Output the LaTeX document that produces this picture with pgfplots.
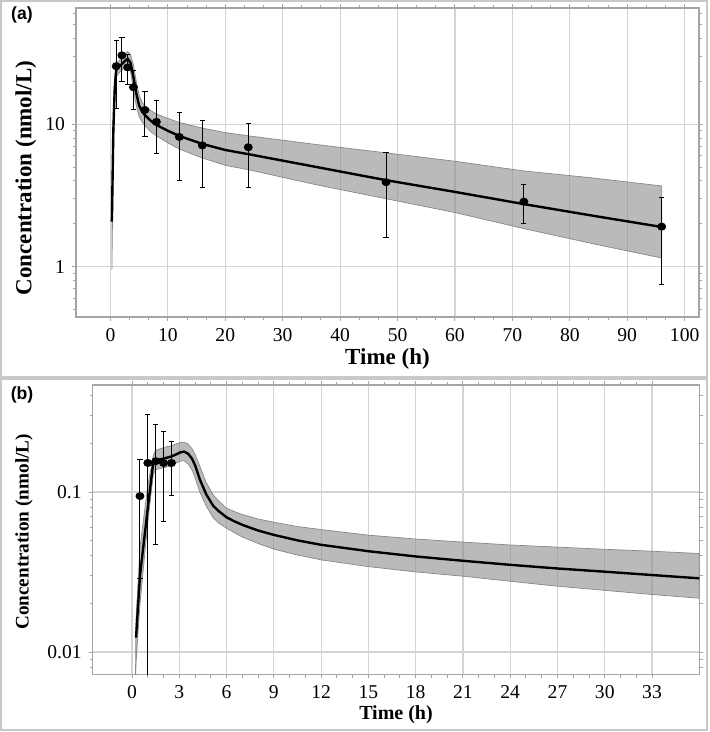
\documentclass[border=0pt]{standalone}
\usepackage{fontspec}
\setmainfont{Liberation Serif}
\newfontfamily\arialfont{Liberation Sans}
\usepackage{pgfplots}
\pgfplotsset{compat=1.18}
\definecolor{panelgray}{RGB}{200,200,200}
\definecolor{gridgray}{RGB}{212,212,212}
\definecolor{axisgray}{RGB}{165,165,165}
\definecolor{edgegray}{RGB}{135,135,135}
\pgfplotsset{
  pkstyle/.style={
    scale only axis,
    axis line style={axisgray, line width=0.6pt},
    tick style={axisgray, line width=0.5pt},
    tick align=outside,
    major tick length=2pt,
    minor tick length=1.6pt,
    xmajorgrids, ymajorgrids,
    major grid style={gridgray, line width=0.6pt},
    minor x tick num=2,
    /pgf/number format/assume math mode=true,
    ticklabel style={font=\fontsize{9.8pt}{11pt}\selectfont},
    clip=true,
  },
  bandstyle/.style={fill=black!45, fill opacity=0.6, draw=edgegray, line width=0.35pt},
  meanstyle/.style={black, line width=1.2pt, mark=none},
  errstyle/.style={black, line width=0.5pt, mark=-, mark size=1.3pt, unbounded coords=jump},
  obsstyle/.style={only marks, mark=*, mark size=1.8pt, mark options={black, xscale=1.12}},
}
\begin{document}
\begin{tikzpicture}
\useasboundingbox (0pt,0pt) rectangle (354.5pt,-366pt);
\draw[panelgray, line width=1pt] (0.5pt,-0.5pt) rectangle (353.5pt,-188.5pt);
\draw[panelgray, line width=1pt] (0.5pt,-189.5pt) rectangle (353.5pt,-365pt);
\node[font=\arialfont\bfseries\fontsize{8.8pt}{10pt}\selectfont, anchor=center] at (11pt,-7.5pt) {(a)};
\node[font=\arialfont\bfseries\fontsize{8.8pt}{10pt}\selectfont, anchor=center] at (11pt,-197.5pt) {(b)};

% ---------------- Panel (a) ----------------
\begin{semilogyaxis}[pkstyle,
  at={(38pt,-4pt)}, anchor=north west,
  width=311.5pt, height=154.5pt,
  xmin=-6, xmax=102.5, ymin=0.443, ymax=65.6,
  xtick={0,10,20,30,40,50,60,70,80,90,100},
  xticklabels={0,10,20,30,40,50,60,70,80,90,100},
  ytick={1,10}, yticklabels={1,10},
  minor ytick={0.5,0.6,0.7,0.8,0.9,2,3,4,5,6,7,8,9,20,30,40,50,60},
  xlabel={Time (h)}, ylabel={Concentration (nmol/L)},
  xlabel style={font=\bfseries\fontsize{11.5pt}{13pt}\selectfont, at={(axis description cs:0.5,0)}, anchor=center, yshift=-21pt},
  ylabel style={font=\bfseries\fontsize{11.5pt}{13pt}\selectfont, at={(axis description cs:-0.0803,0.45)}, anchor=center},
]
\addplot[bandstyle] coordinates {
(0.25,3.0) (0.5,13) (0.75,21.5) (1,26.5) (1.5,28) (2,29.5) (2.5,31) (3,32.4) (3.5,31) (4,26) (4.5,20) (5,16) (5.5,14.3) (6,13.4) (7,12.5) (8,11.8) (10,11) (12,10.3) (16,9.4) (20,8.75) (24,8.3) (36,7.2) (48,6.3) (60,5.5) (72,4.7) (84,4.2) (96,3.69)
(96,1.15) (84,1.45) (72,1.85) (60,2.4) (48,3.0) (36,3.75) (24,4.8) (20,5.15) (16,5.8) (12,6.7) (10,7.4) (8,8.3) (7,8.9) (6,9.8) (5.5,10.4) (5,11.3) (4.5,13.5) (4,17.5) (3.5,23.5) (3,25.7) (2.5,25) (2,24) (1.5,23) (1,21.5) (0.75,15) (0.5,6) (0.25,0.95)
} -- cycle;
\addplot[meanstyle] coordinates {
(0.25,2.07) (0.5,9) (0.75,18) (1,24) (1.5,25.5) (2,26.5) (2.5,27.8) (3,28.9) (3.5,27) (4,21.5) (4.5,16.5) (5,13.5) (5.5,12.3) (6,11.6) (7,10.6) (8,9.9) (10,9) (12,8.28) (16,7.28) (20,6.6) (24,6.17) (36,5.0) (48,4.05) (60,3.35) (72,2.75) (84,2.28) (96,1.9)
};
\addplot[errstyle] table {
x y
1 12.9
1 38.6
nan nan
2 20.1
2 41
nan nan
3 19.1
3 31.1
nan nan
4 12.7
4 23.7
nan nan
6 8.2
6 17.1
nan nan
8 6.25
8 14.7
nan nan
12 4.02
12 12.1
nan nan
16 3.61
16 10.6
nan nan
24 3.59
24 10.2
nan nan
48 1.59
48 6.31
nan nan
72 2.02
72 3.75
nan nan
96 0.745
96 3.08
};
\addplot[obsstyle] table {
x y
1 25.6
2 30.5
3 25.1
4 18.2
6 12.6
8 10.4
12 8.15
16 7.11
24 6.9
48 3.92
72 2.86
96 1.91
};
\end{semilogyaxis}

% ---------------- Panel (b) ----------------
\begin{semilogyaxis}[pkstyle,
  at={(46.35pt,-192.5pt)}, anchor=north west,
  width=303.3pt, height=144.65pt,
  xmin=-2.5, xmax=36, ymin=0.00726, ymax=0.467,
  xtick={0,3,6,9,12,15,18,21,24,27,30,33},
  xticklabels={0,3,6,9,12,15,18,21,24,27,30,33},
  ytick={0.01,0.1}, yticklabels={0.01,0.1},
  minor ytick={0.008,0.009,0.02,0.03,0.04,0.05,0.06,0.07,0.08,0.09,0.2,0.3,0.4},
  xlabel={Time (h)}, ylabel={Concentration (nmol/L)},
  xlabel style={font=\bfseries\fontsize{10pt}{12pt}\selectfont, at={(axis description cs:0.5,0)}, anchor=center, yshift=-20.3pt},
  ylabel style={font=\bfseries\fontsize{9.6pt}{11pt}\selectfont, at={(axis description cs:-0.1133,0.492)}, anchor=center},
]
\addplot[bandstyle] coordinates {
(0.25,0.016) (0.5,0.045) (1,0.11) (1.35,0.17) (1.5,0.182) (2,0.19) (2.5,0.195) (2.8,0.2) (3.05,0.204) (3.3,0.205) (3.55,0.2) (3.8,0.187) (4,0.172) (4.3,0.145) (4.7,0.115) (5.15,0.096) (5.5,0.088) (6,0.0792) (6.5,0.0755) (7,0.0724) (8,0.0679) (9,0.0648) (10.5,0.0609) (12,0.0583) (15,0.0538) (18,0.0509) (21,0.0487) (24,0.0467) (27,0.0453) (30,0.0439) (33,0.0427) (36,0.0413)
(36,0.0217) (33,0.0229) (30,0.0243) (27,0.0258) (24,0.0277) (21,0.0298) (18,0.0317) (15,0.0342) (12,0.0377) (10.5,0.0404) (9,0.044) (8,0.0477) (7,0.0524) (6.5,0.0557) (6,0.0594) (5.5,0.064) (5.15,0.069) (4.7,0.082) (4.3,0.1) (4,0.123) (3.8,0.138) (3.55,0.15) (3.3,0.157) (3.05,0.156) (2.8,0.152) (2.5,0.146) (2,0.142) (1.5,0.138) (1.35,0.13) (1,0.065) (0.5,0.02) (0.25,0.0085) (0.2,0.005)
} -- cycle;
\addplot[meanstyle] coordinates {
(0.25,0.0123) (0.5,0.03) (1,0.08) (1.35,0.155) (1.5,0.158) (2,0.162) (2.5,0.167) (2.8,0.172) (3.05,0.177) (3.3,0.179) (3.55,0.174) (3.8,0.162) (4,0.147) (4.3,0.12) (4.7,0.097) (5.15,0.082) (5.5,0.076) (6,0.0695) (6.5,0.0656) (7,0.0624) (8,0.0575) (9,0.054) (10.5,0.0499) (12,0.0468) (15,0.0427) (18,0.0396) (21,0.0372) (24,0.0351) (27,0.0333) (30,0.0318) (33,0.0303) (36,0.0289)
};
\addplot[errstyle] table {
x y
0.5 0.0288
0.5 0.16
nan nan
1.5 0.0473
1.5 0.266
nan nan
2 0.0652
2 0.238
nan nan
2.5 0.0948
2.5 0.206
};
\addplot[errstyle] table {
x y
1 0.304
1 0.152
};
\addplot[black, line width=0.5pt, mark=none] coordinates {(1,0.152) (1,0.005)};
\addplot[obsstyle] table {
x y
0.5 0.0944
1 0.152
1.5 0.156
2 0.152
2.5 0.152
};
\end{semilogyaxis}
\end{tikzpicture}
\end{document}
